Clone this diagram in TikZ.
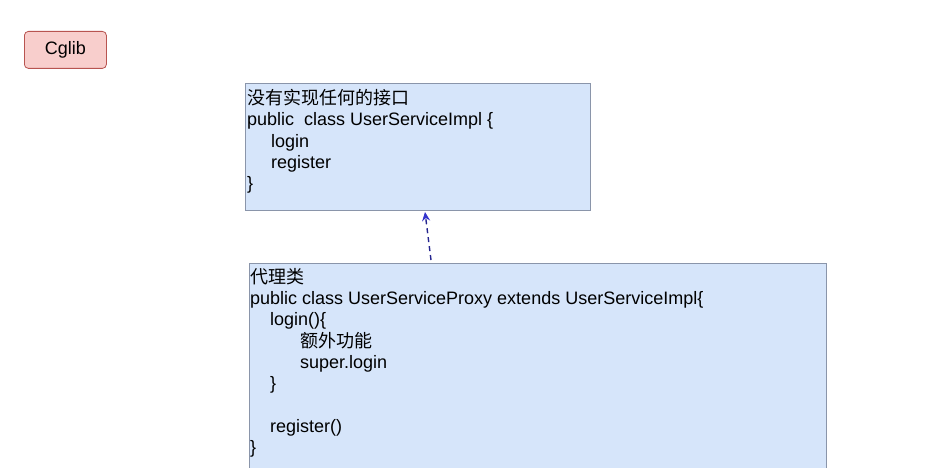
\documentclass[tikz,border=0pt]{standalone}
\usepackage{fontspec}
\setmainfont{Liberation Sans}
\newfontfamily\cjk{Noto Sans CJK SC}
\usetikzlibrary{positioning, arrows.meta}
\definecolor{boxblue}{HTML}{D6E5FA}
\definecolor{lineblue}{HTML}{8A95AA}
\definecolor{boxred}{HTML}{F8CECC}
\definecolor{linered}{HTML}{B85450}
\definecolor{arrowblue}{HTML}{3333CC}

\begin{document}
\begin{tikzpicture}[
    x=1pt, y=-1pt,
    classbox/.style={rectangle, draw=lineblue, fill=boxblue, line width=1pt, inner sep=0pt, anchor=north west},
    code/.style={anchor=north west, inner sep=0pt, align=left, font=\fontsize{18}{21.3}\selectfont},
    tagbox/.style={rectangle, rounded corners=4pt, draw=linered, fill=boxred, line width=0.8pt, minimum width=82pt, minimum height=37pt, font=\fontsize{18}{21}\selectfont, anchor=north west},
]
\clip (0,0) rectangle (940,468);
\fill[white] (0,0) rectangle (940,468);

\node [tagbox] (tag) at (24,31) {Cglib};

% target class
\node [classbox, minimum width=345pt, minimum height=127pt] (impl) at (245,83) {};
\node [code] (implcode) at (247,89) {{\cjk 没有实现任何的接口}\\
public\ \ class UserServiceImpl \{\\
\hspace*{24pt}login\\
\hspace*{24pt}register\\
\}};

% proxy class
\node [classbox, minimum width=577pt, minimum height=230pt] (proxy) at (249,263) {};
\node [code] (proxycode) at (250,268) {{\cjk 代理类}\\
public class UserServiceProxy extends UserServiceImpl\{\\
\hspace*{20pt}login()\{\\
\hspace*{50pt}{\cjk 额外功能}\\
\hspace*{50pt}super.login\\
\hspace*{20pt}\}\\
\mbox{}\\
\hspace*{20pt}register()\\
\}};

\draw [arrowblue!70!black, line width=1.4pt, dash pattern=on 5pt off 4pt, -{Stealth[length=9pt, width=8pt, arrowblue]}]
    ([xshift=182pt, yshift=3pt]proxy.north west) -- ([xshift=180pt, yshift=-1pt]impl.south west);
\end{tikzpicture}
\end{document}
